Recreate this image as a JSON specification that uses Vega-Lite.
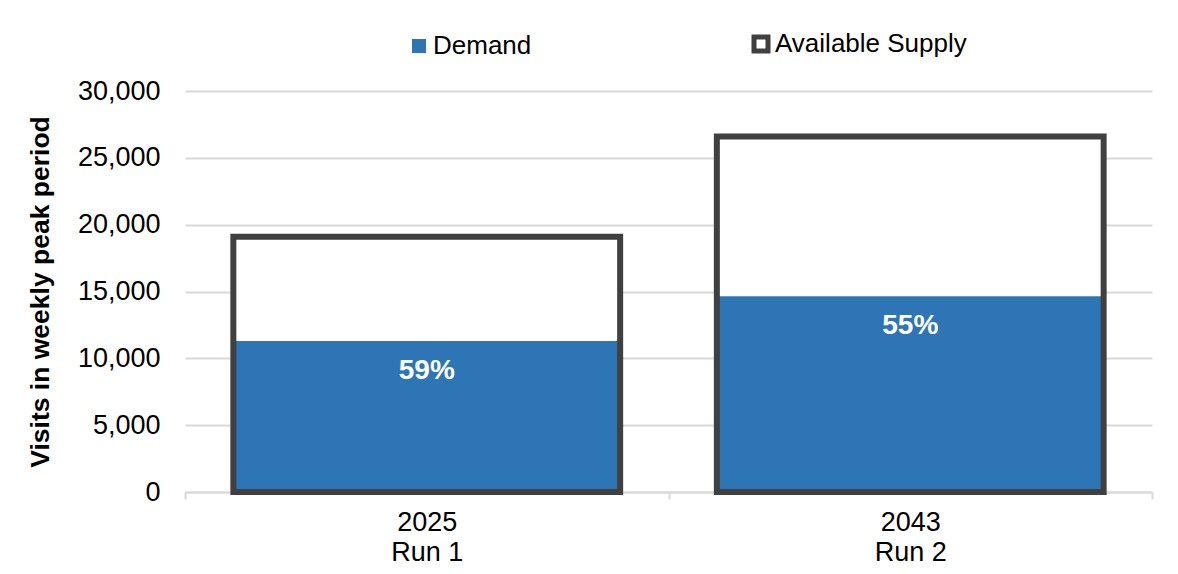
{
  "$schema": "https://vega.github.io/schema/vega-lite/v6.json",
  "width": 967,
  "height": 401,
  "autosize": "none",
  "padding": {"left": 185, "top": 91, "right": 26, "bottom": 82},
  "background": "white",
  "config": {
    "view": {"stroke": null},
    "font": "Liberation Sans"
  },
  "data": {
    "values": [
      {"cat": "2025|Run 1", "series": "Available Supply", "value": 19100, "ord": 1, "label": ""},
      {"cat": "2043|Run 2", "series": "Available Supply", "value": 26600, "ord": 1, "label": ""},
      {"cat": "2025|Run 1", "series": "Demand", "value": 11300, "ord": 2, "label": "59%"},
      {"cat": "2043|Run 2", "series": "Demand", "value": 14650, "ord": 2, "label": "55%"}
    ]
  },
  "encoding": {
    "x": {
      "field": "cat",
      "type": "nominal",
      "sort": null,
      "scale": {"paddingInner": 0, "paddingOuter": 0},
      "axis": {
        "title": null,
        "labelExpr": "split(datum.label, '|')",
        "labelAngle": 0,
        "labelFontSize": 27,
        "labelLineHeight": 30,
        "labelColor": "#000000",
        "labelPadding": 10,
        "domainColor": "#D9D9D9",
        "domainWidth": 2,
        "tickColor": "#D9D9D9",
        "tickWidth": 2,
        "tickSize": 7,
        "tickBand": "extent"
      }
    },
    "y": {
      "field": "value",
      "type": "quantitative",
      "stack": null,
      "scale": {"domain": [0, 30000], "nice": false},
      "axis": {
        "title": "Visits in weekly peak period",
        "titleFontSize": 26.5,
        "titleFontWeight": "bold",
        "titleColor": "#000000",
        "titlePadding": 23,
        "values": [0, 5000, 10000, 15000, 20000, 25000, 30000],
        "format": ",.0f",
        "labelFontSize": 27,
        "labelColor": "#000000",
        "labelPadding": 25,
        "ticks": false,
        "domain": false,
        "gridColor": "#D9D9D9",
        "gridWidth": 2
      }
    }
  },
  "layer": [
    {
      "mark": {"type": "bar", "strokeWidth": 0, "width": {"band": 0.8}},
      "encoding": {
        "color": {
          "field": "series",
          "type": "nominal",
          "scale": {"domain": ["Demand", "Available Supply"], "range": ["#2E75B6", "#FFFFFF"]},
          "legend": {
            "title": null,
            "orient": "none",
            "direction": "horizontal",
            "legendX": 221,
            "legendY": -60,
            "symbolType": "square",
            "symbolSize": 196,
            "symbolOpacity": 1,
            "symbolStrokeWidth": 5,
            "labelFontSize": 26,
            "labelColor": "#000000",
            "labelLimit": 400,
            "labelOffset": 1,
            "columnPadding": 212,
            "encode": {
              "symbols": {
                "update": {
                  "stroke": {"signal": "datum.value === 'Demand' ? '#2E75B6' : '#404040'"},
                  "strokeWidth": {"signal": "datum.value === 'Demand' ? 0 : 5"}
                }
              }
            }
          }
        },
        "order": {"field": "ord", "type": "quantitative"}
      }
    },
    {
      "transform": [{"filter": "datum.series === 'Available Supply'"}],
      "mark": {"type": "bar", "width": {"band": 0.8}, "fill": null, "fillOpacity": 0, "stroke": "#404040", "strokeWidth": 6, "strokeJoin": "miter"}
    },
    {
      "transform": [{"filter": "datum.series === 'Demand'"}],
      "mark": {"type": "text", "color": "#FFFFFF", "fontSize": 28, "fontWeight": "bold", "baseline": "middle", "dy": 30},
      "encoding": {"text": {"field": "label"}}
    }
  ]
}
